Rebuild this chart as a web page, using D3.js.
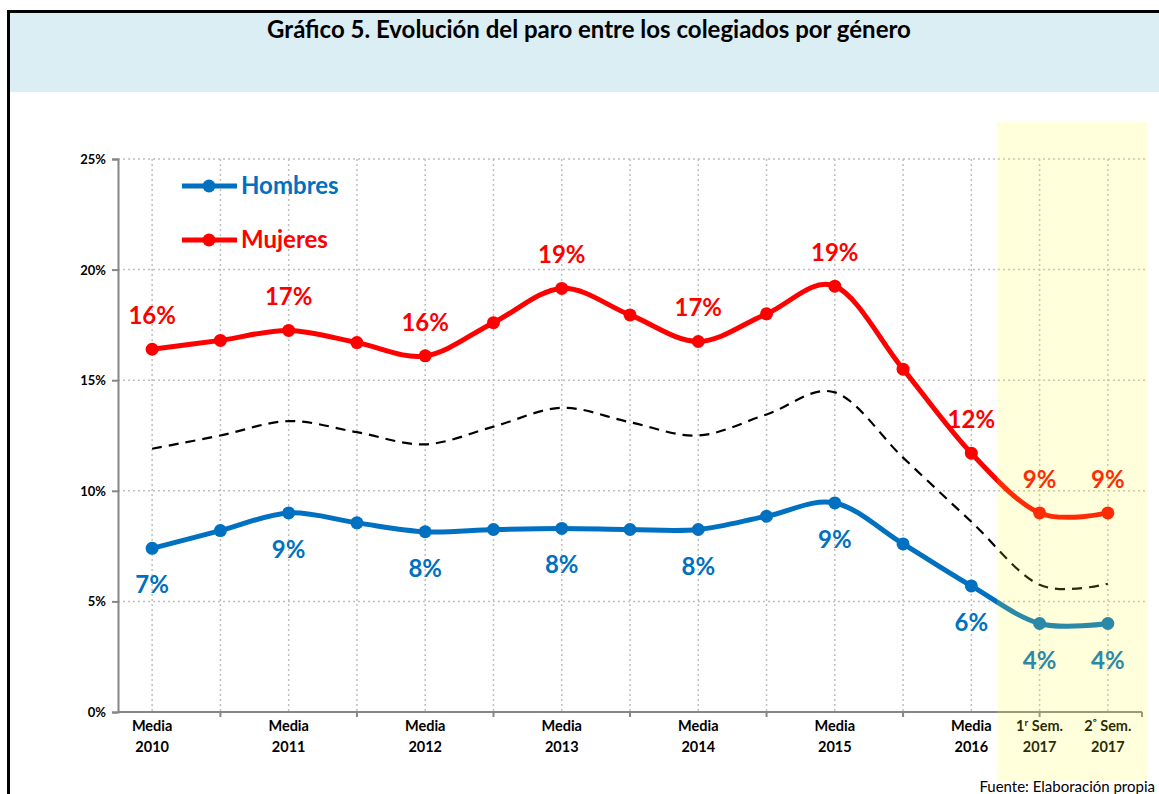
<!DOCTYPE html>
<html>
<head>
<meta charset="utf-8">
<script src="https://cdn.jsdelivr.net/npm/d3@7"></script>
<style>
  body { margin: 0; background: #fff; }
  svg text { font-family: Lato, "Open Sans", sans-serif; }
</style>
</head>
<body>
<svg id="chart" width="1159" height="794"></svg>
<script>
(function() {
    'use strict';

    // Data
    var categories = ["2010a", "2010b", "2011a", "2011b", "2012a", "2012b", "2013a", "2013b",
        "2014a", "2014b", "2015a", "2015b", "2016a", "2017s1", "2017s2"];
    var tickLabels = [["Media", "2010"], null, ["Media", "2011"], null, ["Media", "2012"], null,
        ["Media", "2013"], null, ["Media", "2014"], null, ["Media", "2015"], null,
        ["Media", "2016"], ["1|r| Sem.", "2017"], ["2|º| Sem.", "2017"]];
    var mujeres = [16.4, 16.8, 17.25, 16.7, 16.1, 17.6, 19.15, 17.95, 16.75, 18.0, 19.25, 15.5, 11.7, 9.0, 9.0];
    var hombres = [7.4, 8.2, 9.0, 8.55, 8.15, 8.25, 8.3, 8.25, 8.25, 8.85, 9.45, 7.6, 5.7, 4.0, 4.0];
    var total = [11.9, 12.5, 13.15, 12.65, 12.1, 12.9, 13.75, 13.1, 12.5, 13.45, 14.45, 11.5, 8.6, 5.75, 5.8];
    var mujeresLabels = ["16%", null, "17%", null, "16%", null, "19%", null, "17%", null, "19%", null, "12%", "9%", "9%"];
    var hombresLabels = ["7%", null, "9%", null, "8%", null, "8%", null, "8%", null, "9%", null, "6%", "4%", "4%"];
    var yTicks = [0, 5, 10, 15, 20, 25];

    var svg = d3.select("#chart");

    // Title band and frame
    svg.append("rect").attr("x", 8).attr("y", 11).attr("width", 1151).attr("height", 81).attr("fill", "#DAEEF3");
    svg.append("path").attr("d", "M8.5,794 V11.5 H1159")
        .attr("fill", "none").attr("stroke", "#000").attr("stroke-width", 3);
    svg.append("text").attr("x", 589).attr("y", 38).attr("text-anchor", "middle")
        .attr("font-size", "24px").attr("font-weight", "bold").attr("fill", "#000")
        .text("Gráfico 5. Evolución del paro entre los colegiados por género");

    var left = 118, right = 1142, top = 159, bottom = 712;
    var x = d3.scaleBand().domain(categories).range([left, right]);
    var y = d3.scaleLinear().domain([0, 25]).range([bottom, top]);
    var cx = function(i) { return x(categories[i]) + x.bandwidth() / 2; };

    // Gridlines
    svg.append("g").selectAll("line").data(yTicks.filter(function(d) { return d > 0; })).enter()
        .append("line")
        .attr("x1", left).attr("x2", 1147)
        .attr("y1", function(d) { return y(d); }).attr("y2", function(d) { return y(d); })
        .attr("stroke", "#BFBFBF").attr("stroke-width", 1.5).attr("stroke-dasharray", "2,3");
    svg.append("g").selectAll("line").data(categories).enter()
        .append("line")
        .attr("x1", function(d, i) { return cx(i); }).attr("x2", function(d, i) { return cx(i); })
        .attr("y1", top).attr("y2", bottom)
        .attr("stroke", "#BFBFBF").attr("stroke-width", 1.5).attr("stroke-dasharray", "2,3");

    // Axes
    var yAxis = svg.append("g").attr("transform", "translate(" + left + ",0)")
        .call(d3.axisLeft(y).tickValues(yTicks).tickSize(6).tickFormat(function(d) { return d + "%"; }));
    yAxis.select(".domain").attr("stroke", "#868686").attr("stroke-width", 2);
    yAxis.selectAll(".tick line").attr("stroke", "#868686").attr("stroke-width", 2);
    yAxis.selectAll(".tick text").attr("x", -12).attr("dy", "0.35em")
        .attr("font-size", "13px").attr("font-weight", "bold").attr("fill", "#000");

    var xAxisG = svg.append("g");
    xAxisG.append("line").attr("x1", left).attr("x2", right).attr("y1", bottom).attr("y2", bottom)
        .attr("stroke", "#868686").attr("stroke-width", 2);
    var tickIdx = [];
    categories.forEach(function(d, i) { if (i % 2 === 1) tickIdx.push(i); });
    xAxisG.selectAll("line.tk").data(tickIdx.concat([categories.length - 1])).enter()
        .append("line").attr("class", "tk")
        .attr("x1", function(i, k) { return k < tickIdx.length ? cx(i) : right; })
        .attr("x2", function(i, k) { return k < tickIdx.length ? cx(i) : right; })
        .attr("y1", bottom).attr("y2", bottom + 5)
        .attr("stroke", "#868686").attr("stroke-width", 2);

    tickLabels.forEach(function(d, i) {
        if (d === null) return;
        var t = xAxisG.append("text").attr("x", cx(i)).attr("y", bottom + 19)
            .attr("text-anchor", "middle")
            .attr("font-size", "14.5px").attr("font-weight", "bold").attr("fill", "#000");
        var parts = d[0].split("|");
        t.append("tspan").attr("x", cx(i)).text(parts[0]);
        if (parts.length > 1) {
            t.append("tspan").attr("font-size", "10px").attr("dy", "-5").text(parts[1]);
            t.append("tspan").attr("dy", "5").text(parts[2]);
        }
        t.append("tspan").attr("x", cx(i)).attr("dy", "21").text(d[1]);
    });

    // Lines
    var line = d3.line()
        .curve(d3.curveCatmullRom.alpha(0))
        .x(function(d, i) { return cx(i); })
        .y(function(d) { return y(d); });

    svg.append("path").datum(total).attr("d", line)
        .attr("fill", "none").attr("stroke", "#000").attr("stroke-width", 2.2).attr("stroke-dasharray", "10,7");

    var series = [
        { values: hombres, labels: hombresLabels, color: "#0070C0", off: 45 },
        { values: mujeres, labels: mujeresLabels, color: "#FF0000", off: -25 }
    ];
    series.forEach(function(s) {
        svg.append("path").datum(s.values).attr("d", line)
            .attr("fill", "none").attr("stroke", s.color).attr("stroke-width", 5);
        svg.append("g").selectAll("circle").data(s.values).enter()
            .append("circle")
            .attr("cx", function(d, i) { return cx(i); })
            .attr("cy", function(d) { return y(d); })
            .attr("r", 6.5).attr("fill", s.color);
        var pts = s.values.map(function(v, i) { return { v: v, i: i, label: s.labels[i] }; })
            .filter(function(p) { return p.label !== null; });
        svg.append("g").selectAll("text").data(pts).enter()
            .append("text")
            .attr("x", function(p) { return cx(p.i); })
            .attr("y", function(p) { return y(p.v) + s.off; })
            .attr("text-anchor", "middle").attr("font-size", "24px").attr("font-weight", "bold")
            .attr("fill", s.color)
            .text(function(p) { return p.label; });
    });

    // Legend
    var legend = [{ name: "Hombres", color: "#0070C0", y: 186 }, { name: "Mujeres", color: "#FF0000", y: 240 }];
    var lg = svg.append("g").selectAll("g").data(legend).enter().append("g");
    lg.append("line").attr("x1", 182).attr("x2", 237)
        .attr("y1", function(d) { return d.y; }).attr("y2", function(d) { return d.y; })
        .attr("stroke", function(d) { return d.color; }).attr("stroke-width", 5);
    lg.append("circle").attr("cx", 209).attr("cy", function(d) { return d.y; }).attr("r", 6.5)
        .attr("fill", function(d) { return d.color; });
    lg.append("text").attr("x", 241).attr("y", function(d) { return d.y + 8; })
        .attr("font-size", "24px").attr("font-weight", "bold")
        .attr("fill", function(d) { return d.color; })
        .text(function(d) { return d.name; });

    // Highlight of the 2017 semesters (translucent, on top)
    svg.append("rect").attr("x", 997).attr("y", 122).attr("width", 150).attr("height", 660)
        .attr("fill", "#FFFF28").attr("fill-opacity", 0.17);

    svg.append("text").attr("x", 1155).attr("y", 792).attr("text-anchor", "end")
        .attr("font-size", "15px").attr("fill", "#000")
        .text("Fuente: Elaboración propia");
})();
</script>
</body>
</html>
